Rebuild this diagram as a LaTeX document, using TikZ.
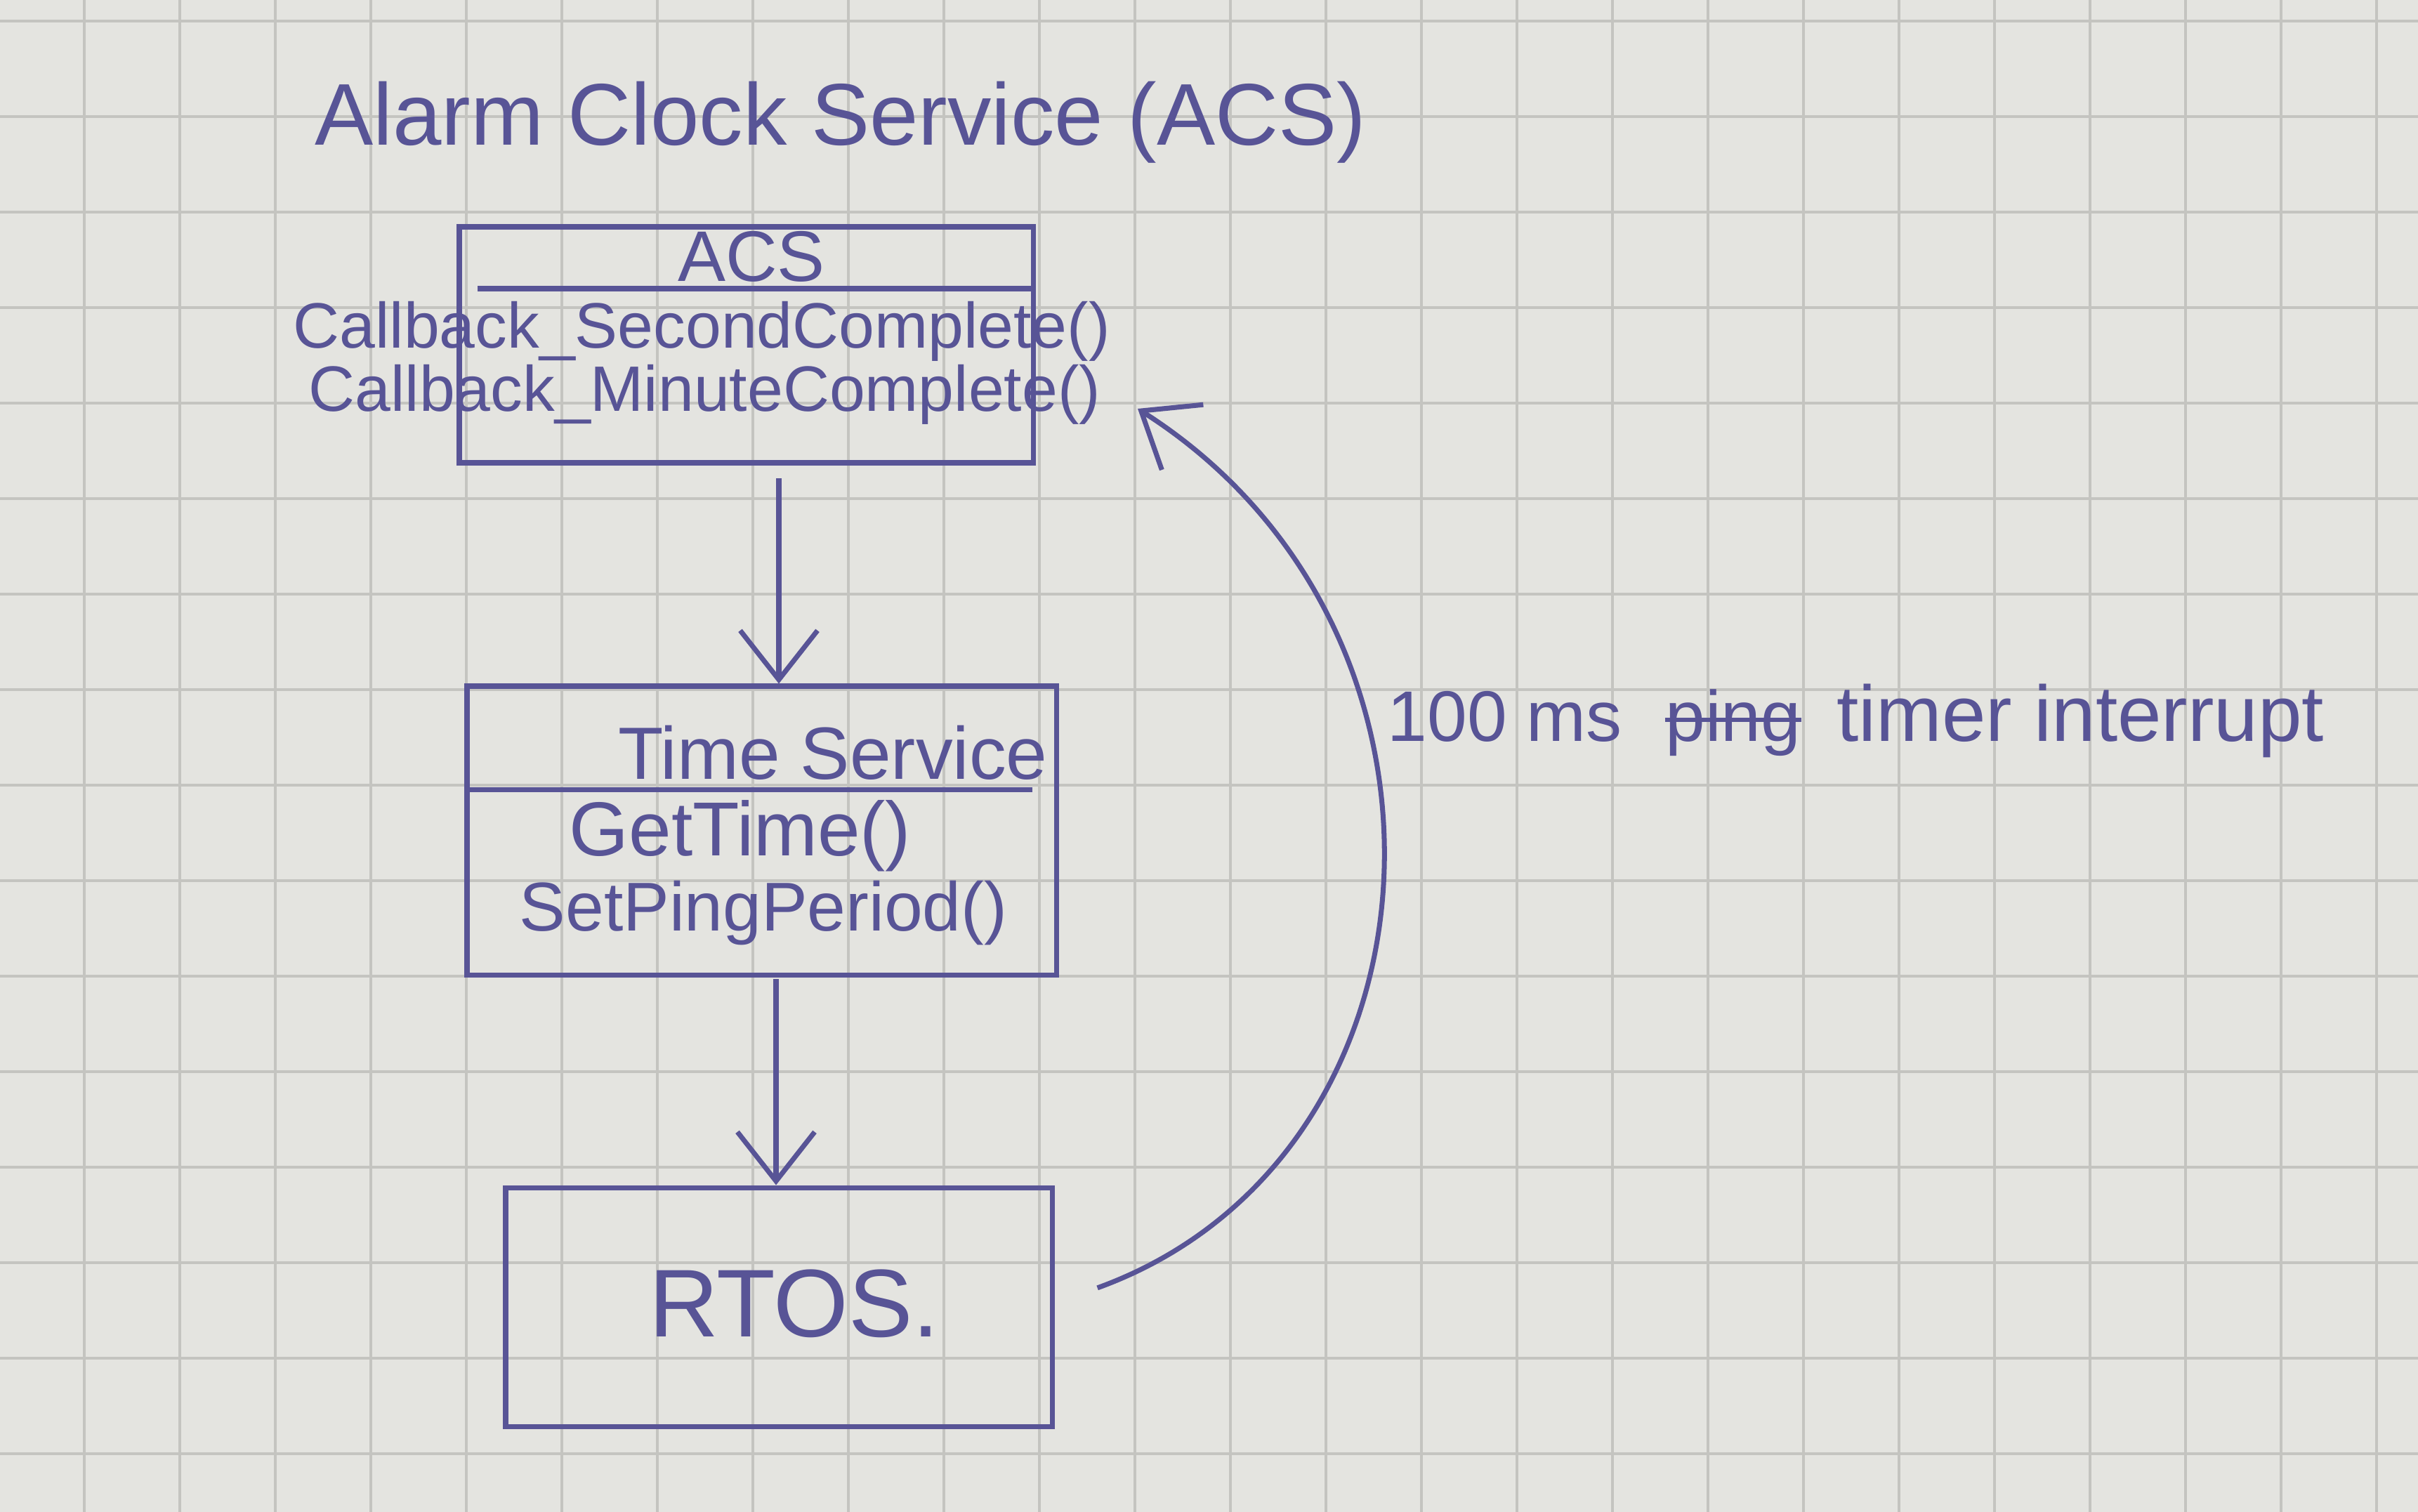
\documentclass[tikz,border=0pt]{standalone}
\usepackage{fontspec}
\setmainfont{Liberation Sans}
\usetikzlibrary{arrows.meta,calc}
\definecolor{pen}{RGB}{88,84,150}
\definecolor{paper}{RGB}{228,228,224}
\definecolor{gridc}{RGB}{196,196,192}
\tikzset{
  box/.style={draw=pen, line width=2pt, rectangle, inner sep=0pt},
  pentext/.style={text=pen, inner sep=0pt},
  penline/.style={draw=pen, line width=2pt},
  penarrow/.style={draw=pen, line width=2pt, -{Straight Barb[length=7mm,width=11mm,line width=2pt]}},
  lblfont/.style={pentext, font=\fontsize{29}{34}\selectfont, anchor=base west},
}
\begin{document}
\begin{tikzpicture}
\useasboundingbox (0,0) rectangle (34.43,-21.53);
\fill[paper] (0,0) rectangle (34.43,-21.53);
\begin{scope}
\clip (0,0) rectangle (34.43,-21.53);
\foreach \x in {1.2,2.56,...,34.5} \draw[gridc, line width=1.2pt] (\x,0) -- (\x,-21.53);
\foreach \y in {-0.3,-1.66,...,-21.6} \draw[gridc, line width=1.2pt] (0,\y) -- (34.43,\y);
\end{scope}

% title
\node[pentext, font=\fontsize{35.5}{42}\selectfont] (title) at (11.97,-1.74) {Alarm Clock Service (ACS)};

% ACS box
\node[box, minimum width=8.17cm, minimum height=3.36cm] (acs) at (10.625,-4.91) {};
\draw[penline] (6.8,-4.11) -- (14.71,-4.11);
\node[pentext, font=\fontsize{29}{34}\selectfont, anchor=base] (acsname) at (10.7,-4.0) {ACS};
\node[pentext, font=\fontsize{26}{32}\selectfont, anchor=west] (cb1) at (4.17,-4.72) {Callback\_SecondComplete()};
\node[pentext, font=\fontsize{26}{32}\selectfont, anchor=west] (cb2) at (4.39,-5.62) {Callback\_MinuteComplete()};

% Time Service box
\node[box, minimum width=8.39cm, minimum height=4.11cm] (ts) at (10.845,-11.825) {};
\draw[penline] (6.65,-11.24) -- (14.7,-11.24);
\node[pentext, font=\fontsize{30}{36}\selectfont] (tsname) at (11.86,-10.72) {Time Service};
\node[pentext, font=\fontsize{31}{36}\selectfont] (gt) at (10.54,-11.9) {GetTime()};
\node[pentext, font=\fontsize{28}{34}\selectfont] (spp) at (10.87,-13.0) {SetPingPeriod()};

% RTOS box
\node[box, minimum width=7.78cm, minimum height=3.40cm] (rtos) at (11.09,-18.61) {};
\node[pentext, font=\fontsize{39}{44}\selectfont] (rtosname) at (11.31,-18.56) {RTOS.};

% arrows
\coordinate (a1s) at (11.09,-6.59);
\coordinate (a2s) at (11.05,-13.88);
\draw[penarrow, shorten <=0.22cm] (a1s) -- (a1s |- ts.north);
\draw[penarrow, shorten <=0.06cm] (a2s) -- (a2s |- rtos.north);

\coordinate (irq) at (16.2,-5.82);
\draw[penarrow, shorten <=0.65cm] (rtos.east |- 0,-18.56) .. controls (20.7,-16.5) and (21.2,-9.0) .. (irq);

% label with struck-out word
\node[lblfont] (lbl1) at (19.75,-10.55) {100 ms};
\node[lblfont] (lbl2) at ([xshift=0.6cm]lbl1.base east) {ping};
\node[lblfont, font=\fontsize{32}{36}\selectfont] (lbl3) at ([xshift=0.5cm]lbl2.base east) {timer interrupt};
\draw[penline, line width=1.6pt] ([yshift=0.3cm]lbl2.base west) -- ([yshift=0.3cm]lbl2.base east);
\end{tikzpicture}
\end{document}
